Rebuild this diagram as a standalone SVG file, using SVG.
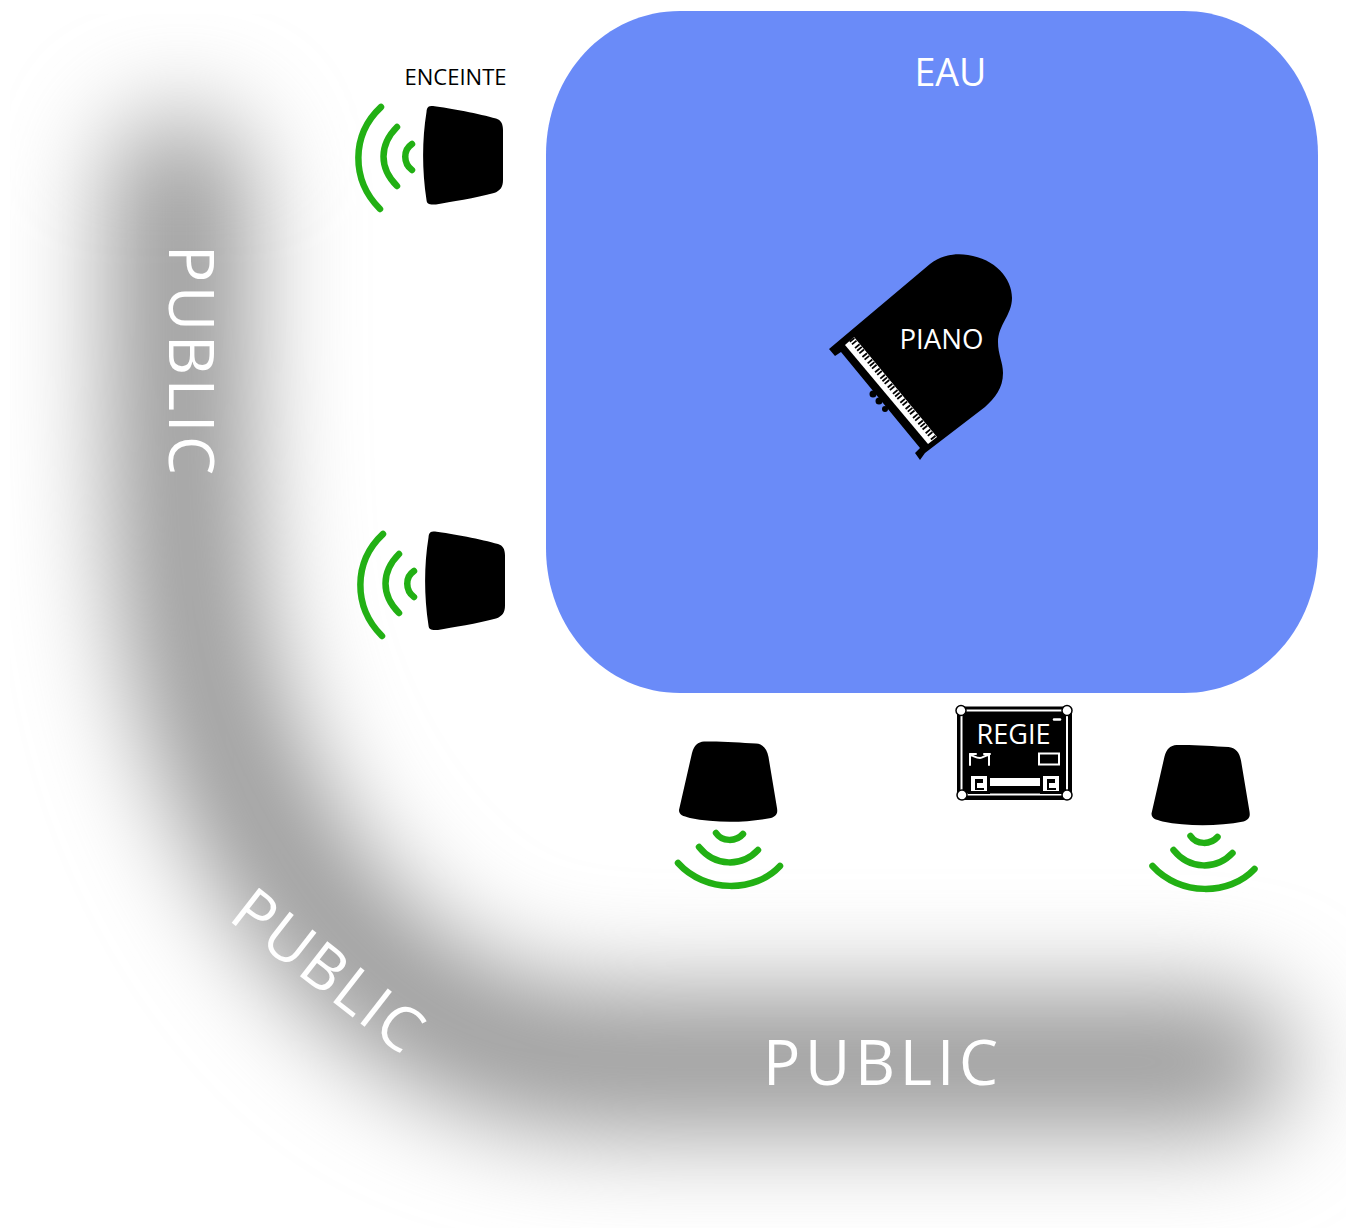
<svg xmlns="http://www.w3.org/2000/svg" width="1346" height="1228" viewBox="0 0 1346 1228">
<style>
text{font-family:"Open Sans","Noto Sans","Liberation Sans",sans-serif}
.pub{font-size:62px;fill:#fff}
.wave{fill:none;stroke:#22b014;stroke-width:6.5;stroke-linecap:round}
.w{fill:#fff}
.wl{fill:none;stroke:#fff;stroke-linecap:round}
</style>
<defs>
<filter id="blur" filterUnits="userSpaceOnUse" x="10" y="14" width="1336" height="1214" color-interpolation-filters="sRGB"><feGaussianBlur stdDeviation="52"/></filter>
<path id="spk-side-body" d="M433 106C450 108 480 114 496 118.500C501 120 503 124 503 130L503 180C503 187 500 191 494 193C476 198 450 202 436 204.500C429 205 427 204 426.500 200C422 170 422 140 426.500 112C427 107 428 106 433 106Z"/>
<path id="spk-side-wave" class="wave" d="M381 107C351 135 351 180 380 209M397 127C379 145 379 168 397 186M412 144C403 150 403 163 412 170"/>
<path id="spk-down-body" d="M704 741.500C720 741 740 742.500 756 743.500C763 744 767 749 768.500 757L777 808C778 814 776 816 771 818C745 823 715 823 690 818C683 816 679 815 679 810L692 753C694 745 698 742 704 741.500Z"/>
<path id="spk-down-wave" class="wave" d="M678 863C705 893 755 893 780 866M699 847C715 867 742 867 758 850M716 833C722 842 736 842 743 834"/>
</defs>
<rect width="1346" height="1228" fill="#fff"/>
<g id="public-band">
<path d="M180 185C180 320 178 480 190 590C205 740 280 890 385 980C450 1035 520 1062 640 1062L1223 1062" fill="none" stroke="#969696" stroke-width="135" stroke-linecap="round" filter="url(#blur)"/>
</g>
<g id="connectors"></g>
<g id="eau">
<path d="M680 11H1184C1258 11 1318 73 1318 155V548C1318 630 1258 693 1184 693H680C606 693 546 630 546 548V155C546 73 606 11 680 11Z" fill="#6a8bf8"/>
<text x="950.500" y="86" font-size="38" fill="#fff" text-anchor="middle" textLength="72" lengthAdjust="spacingAndGlyphs">EAU</text>
</g>
<g id="piano">
<path d="M829 349L930 264C942 255 955 253 968 255C995 259 1012 278 1012 298C1012 315 998 325 998 342C998 355 1003 362 1003 373C1003 388 995 398 985 407L925 453L920 460L915 453L920 448L841 352L835 356Z"/>
<path class="w" d="M854 337L845 345L928 444L937 437Z"/>
<path d="M851.500 339.200L934.500 439.200" fill="none" stroke="#000" stroke-width="6" stroke-dasharray="1.800 1.600 1.800 3 1.800 1.600 1.800 1.600 1.800 3"/>
<circle cx="873" cy="394" r="3.500"/><circle cx="879" cy="401" r="3.500"/><circle cx="885" cy="409" r="3"/>
<text x="941.500" y="349" font-size="28" fill="#fff" text-anchor="middle" textLength="84" lengthAdjust="spacingAndGlyphs">PIANO</text>
</g>
<g id="enceinte-1">
<text x="455.500" y="85" font-size="22" fill="#000" text-anchor="middle" textLength="102" lengthAdjust="spacingAndGlyphs">ENCEINTE</text>
<use href="#spk-side-body"/><use href="#spk-side-wave"/>
</g>
<g id="enceinte-2"><use href="#spk-side-body" x="2" y="425.500"/><use href="#spk-side-wave" x="2" y="427"/></g>
<g id="enceinte-3"><use href="#spk-down-body"/><use href="#spk-down-wave"/></g>
<g id="enceinte-4"><use href="#spk-down-body" x="472.500" y="3.500"/><use href="#spk-down-wave" x="474.500" y="3"/></g>
<g id="regie">
<rect x="957" y="706.500" width="115" height="93.500" rx="4"/>
<rect x="961.500" y="710.500" width="105.500" height="84" fill="none" stroke="#fff" stroke-width="2"/>
<g class="w" stroke="#000" stroke-width="1.500">
<circle cx="961" cy="710.500" r="5"/><circle cx="1067" cy="710.500" r="5"/><circle cx="962" cy="795" r="5"/><circle cx="1067" cy="795" r="5"/>
</g>
<rect class="w" x="985" y="778" width="60" height="8"/>
<rect x="968" y="773" width="22" height="21"/><rect x="1040" y="773" width="22" height="21"/>
<rect class="w" x="971" y="776" width="16" height="15"/><rect class="w" x="1043" y="776" width="16" height="15"/>
<path d="M975 779h8v4h-6v5h7v2h-9zM1047 779h8v4h-6v5h7v2h-9z"/>
<g class="wl" stroke-width="2">
<path d="M970 765V755C975 756 975 758 980 758C983 758 985 755 989 755V765M970 754h6M984 754h6"/>
<rect x="1039" y="753.500" width="20" height="11"/>
<path d="M1054 719.500h6" stroke-width="2.500"/>
</g>
<text x="1013.500" y="744" font-size="28" fill="#fff" text-anchor="middle" textLength="74" lengthAdjust="spacingAndGlyphs">REGIE</text>
</g>
<g id="public-labels">
<text class="pub" x="169" y="245" transform="rotate(90 169 245)" textLength="230">PUBLIC</text>
<text class="pub" x="227" y="919" transform="rotate(38 227 919)" textLength="222">PUBLIC</text>
<text class="pub" x="763" y="1085" textLength="235">PUBLIC</text>
</g>
</svg>
